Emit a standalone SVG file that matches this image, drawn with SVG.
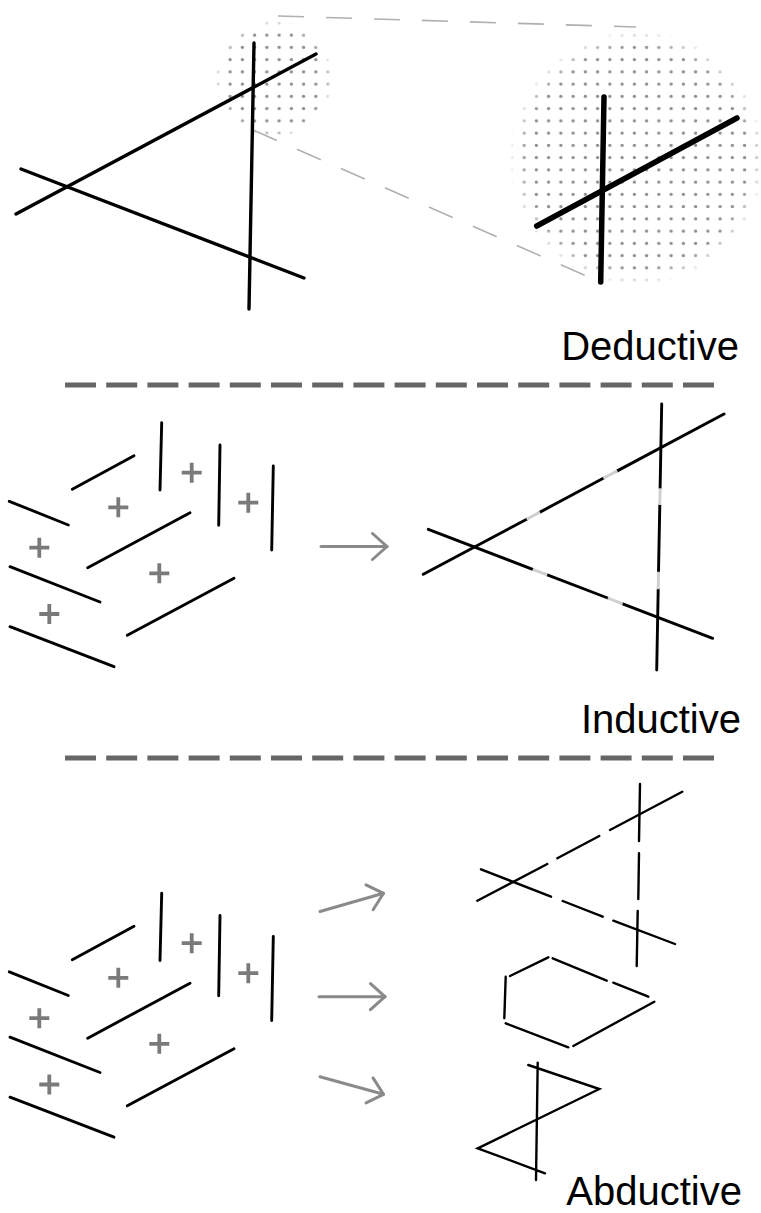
<svg xmlns="http://www.w3.org/2000/svg" width="761" height="1213" viewBox="0 0 761 1213">
<style>
.bk{stroke:#000;fill:none;stroke-linecap:round}
.t3{stroke-width:3.4}
.t25{stroke-width:2.9}
.t2{stroke-width:2.4}
.lt{stroke:#cfcfcf;stroke-width:2.9;fill:none}
.plus{stroke:#7a7a7a;stroke-width:3.8;fill:none}
.arr{stroke:#8a8a8a;stroke-width:3;fill:none;stroke-linecap:round;marker-end:url(#ah)}
.div{stroke:#666;stroke-width:5;stroke-dasharray:31 10.2;fill:none}
.zoomln{stroke:#b0b0b0;stroke-width:1.6;stroke-dasharray:26 22;fill:none}
.lbl{font-family:"Liberation Sans",Arial,sans-serif;font-size:40px;fill:#000;text-anchor:end}
</style>
<defs>
<pattern id="dots" patternUnits="userSpaceOnUse" x="224" y="29" width="12.25" height="12.25">
<circle cx="6.1" cy="6.1" r="1.7" fill="#8e8e8e"/>
</pattern>
<radialGradient id="fade" cx="0.5" cy="0.5" r="0.5">
<stop offset="0.86" stop-color="#fff"/>
<stop offset="1" stop-color="#000"/>
</radialGradient>
<mask id="m1"><circle cx="274" cy="79" r="59" fill="url(#fade)"/></mask>
<mask id="m2"><circle cx="637" cy="158" r="128" fill="url(#fade)"/></mask>
<marker id="ah" markerUnits="userSpaceOnUse" viewBox="-18 -16 20 32" markerWidth="20" markerHeight="32" refX="0" refY="0" orient="auto">
<path d="M-14.5,-13 L0,0 L-14.5,13" fill="none" stroke="#8a8a8a" stroke-width="3" stroke-linecap="round" stroke-linejoin="round"/>
</marker>
<g id="fragments">
<line class="bk t25" x1="161.7" y1="422.7" x2="160" y2="490"/>
<line class="bk t25" x1="220" y1="445" x2="218.7" y2="525.3"/>
<line class="bk t25" x1="273.3" y1="466" x2="271.7" y2="550"/>
<line class="bk t25" x1="72.3" y1="489.3" x2="134" y2="455.7"/>
<line class="bk t25" x1="9.3" y1="501.3" x2="68.3" y2="525"/>
<line class="bk t25" x1="87.7" y1="567.7" x2="190" y2="512.7"/>
<line class="bk t25" x1="10" y1="566.7" x2="100" y2="602"/>
<line class="bk t25" x1="127.3" y1="635.3" x2="234" y2="578.3"/>
<line class="bk t25" x1="10" y1="626.7" x2="114" y2="666.7"/>
<path class="plus" d="M181.7,472.7h20M191.7,462.7v20"/>
<path class="plus" d="M108.3,507.3h20M118.3,497.3v20"/>
<path class="plus" d="M238.3,502.7h20M248.3,492.7v20"/>
<path class="plus" d="M29.3,547.7h20M39.3,537.7v20"/>
<path class="plus" d="M149.3,573.3h20M159.3,563.3v20"/>
<path class="plus" d="M39.3,614h20M49.3,604v20"/>
</g>
</defs>

<g id="deductive">
<g id="zoom-lens">
<line class="zoomln" x1="278" y1="16" x2="636" y2="27"/>
<line class="zoomln" x1="253" y1="130" x2="598" y2="281"/>
<rect x="210" y="15" width="130" height="130" fill="url(#dots)" mask="url(#m1)"/>
<rect x="505" y="25" width="256" height="265" fill="url(#dots)" mask="url(#m2)"/>
</g>
<g id="deductive-lines">
<line class="bk t3" x1="16" y1="214" x2="316" y2="54"/>
<line class="bk t3" x1="21" y1="169" x2="304" y2="278"/>
<line class="bk t3" x1="254" y1="43" x2="249" y2="309"/>
</g>
<g id="deductive-zoomed">
<line class="bk" stroke-width="5.5" x1="604" y1="97" x2="600.7" y2="282"/>
<line class="bk" stroke-width="5.5" x1="536.7" y1="226" x2="737" y2="118"/>
</g>
<text class="lbl" x="739" y="360">Deductive</text>
</g>

<line id="divider1" class="div" x1="65" y1="385" x2="715" y2="385"/>

<g id="inductive">
<use href="#fragments"/>
<g id="connectors1">
<line class="arr" x1="321" y1="546.5" x2="387" y2="546.5"/>
</g>
<g id="inductive-triangle">
<path class="bk t25" stroke-linecap="butt" d="M423.3,574.3L526.7,519.2M540,512.1L603.3,478.3M617.3,470.9L724,414"/>
<path class="lt" d="M526.7,519.2L540,512.1M603.3,478.3L617.3,470.9"/>
<path class="bk t25" stroke-linecap="butt" d="M428.3,529.3L532.7,569.3M547.3,574.9L607.7,598M622.7,603.8L712.7,638.3"/>
<path class="lt" d="M532.7,569.3L547.3,574.9M607.7,598L622.7,603.8"/>
<path class="bk t25" stroke-linecap="butt" d="M661.7,404L660.1,488.3M659.8,505L658.5,571.7M658.2,589.3L656.7,670"/>
<path class="lt" d="M660.1,488.3L659.8,505M658.5,571.7L658.2,589.3"/>
</g>
<text class="lbl" x="741" y="733">Inductive</text>
</g>

<line id="divider2" class="div" x1="65" y1="758" x2="715" y2="758"/>

<g id="abductive">
<use href="#fragments" transform="translate(0,470.5)"/>
<g id="connectors2">
<line class="arr" x1="320" y1="911.5" x2="383.5" y2="893.3"/>
<line class="arr" x1="319" y1="996.7" x2="385" y2="996.7"/>
<line class="arr" x1="320" y1="1076.7" x2="383.5" y2="1094.3"/>
</g>
<g id="abd-triangle">
<path class="bk t2" d="M640,784L639,841M639,853.3L638.3,899M637.7,911L636.7,966"/>
<path class="bk t2" d="M477.3,900.7L547.3,864M557.3,858.3L599.3,836M610,830L682.3,791.7"/>
<path class="bk t2" d="M481,869.3L551,896.7M562.7,901L602.7,916.7M613.3,920.7L675,944"/>
</g>
<g id="abd-hexagon">
<path class="bk t2" d="M510,976L548.3,957.3M552.7,958.3L606.7,980.7M613.3,982.7L648.3,996.7M654.3,1001.7L573.3,1046M568.3,1047.3L505.7,1023.3M504.3,1018.3L505.7,976.7"/>
</g>
<g id="abd-bowtie">
<path class="bk t2" d="M537.7,1062.7L536,1180M528.3,1065L599.3,1089L477.7,1148.3L545,1173.3"/>
</g>
<text class="lbl" x="742" y="1205">Abductive</text>
</g>
</svg>
